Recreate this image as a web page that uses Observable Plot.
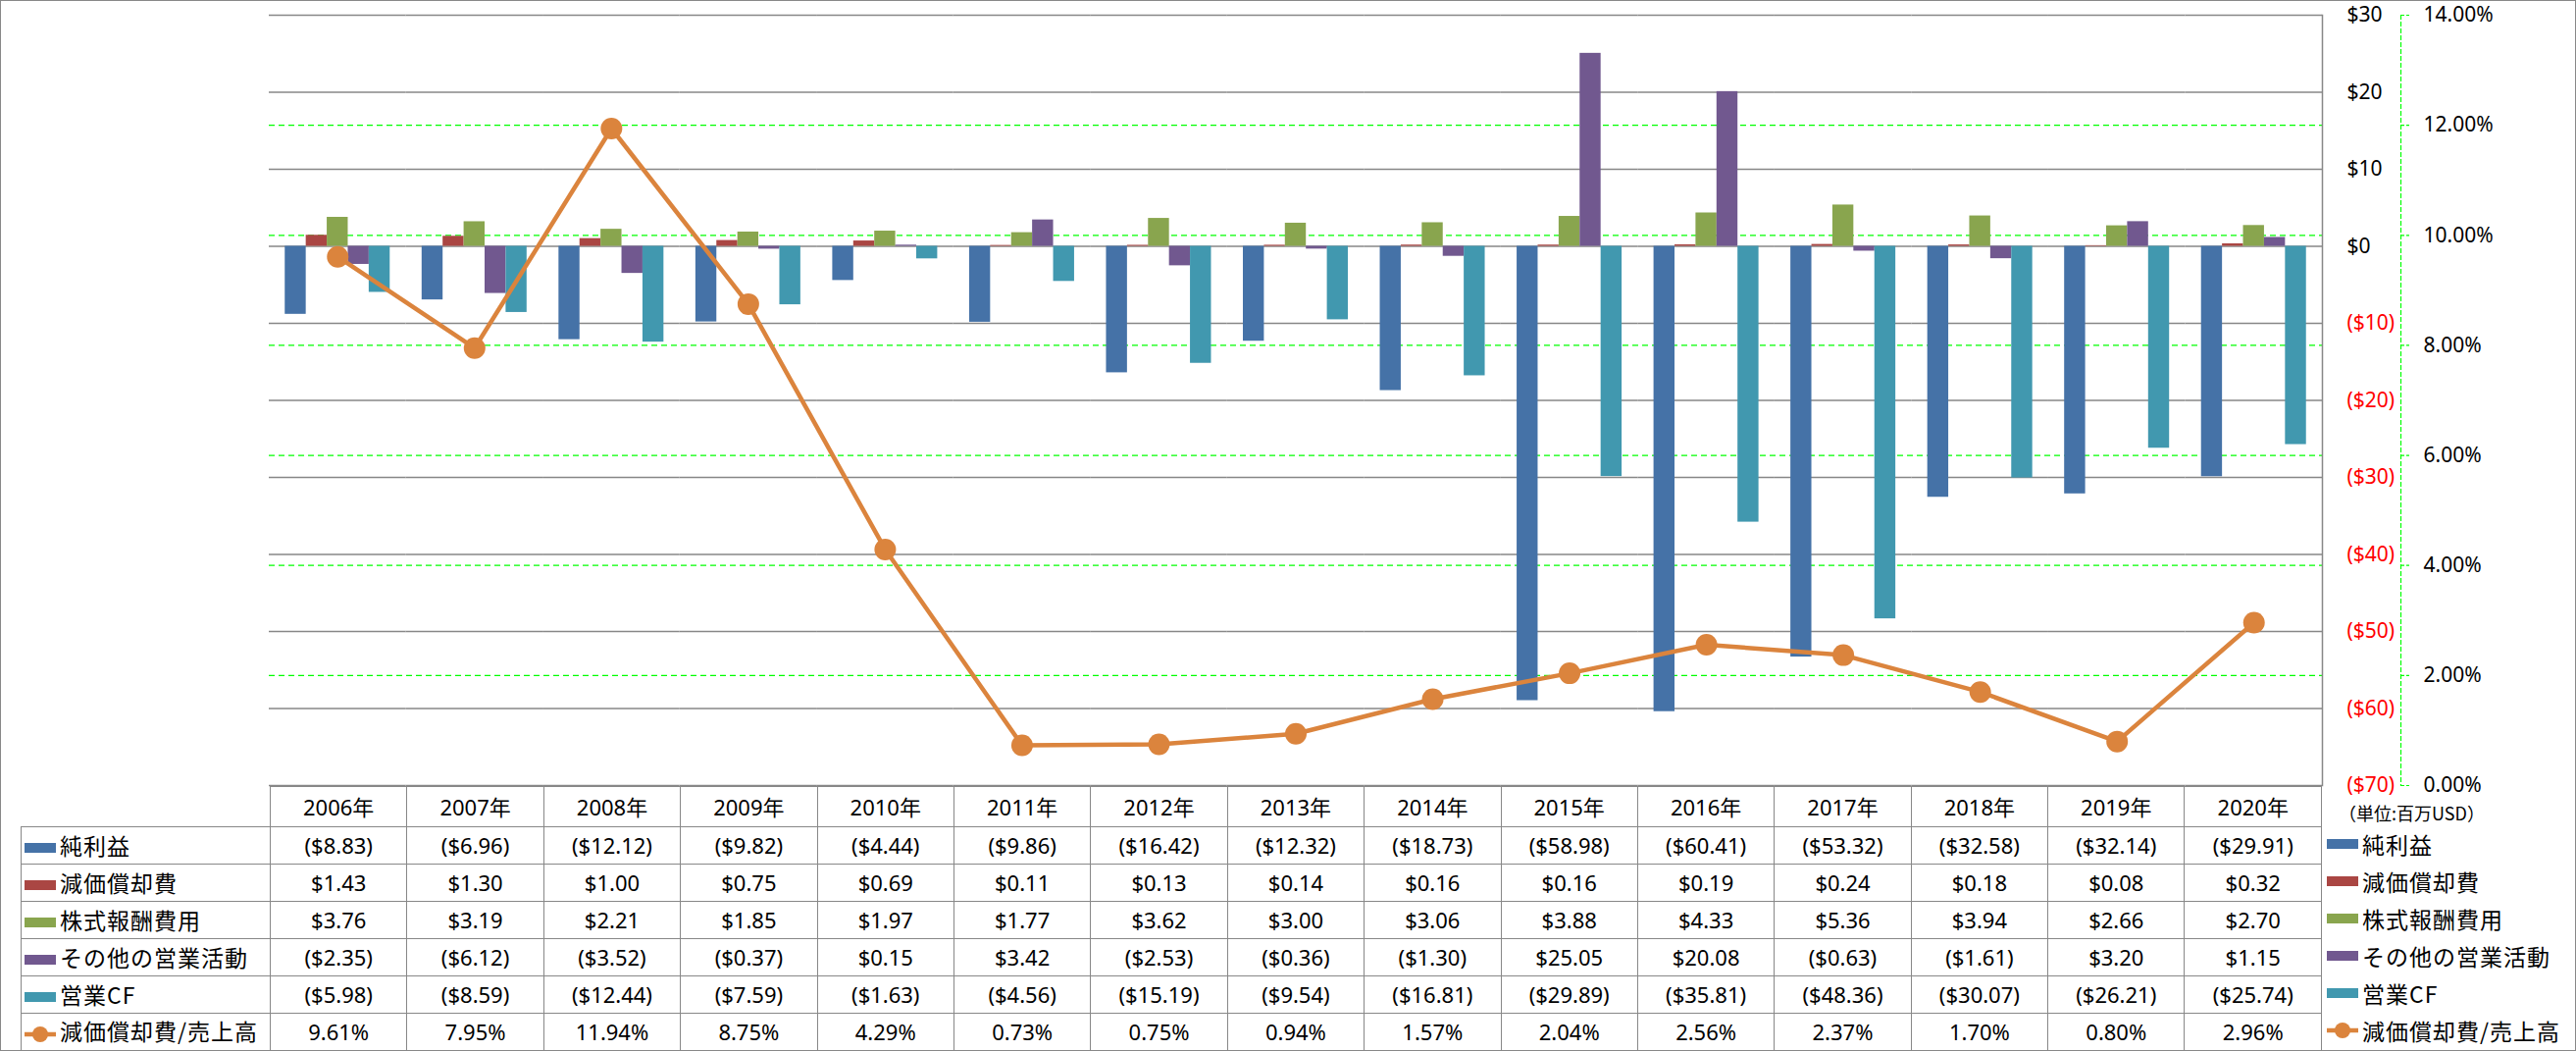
<!DOCTYPE html>
<html>
<head>
<meta charset="utf-8">
<script src="https://cdn.jsdelivr.net/npm/d3@7"></script>
<script src="https://cdn.jsdelivr.net/npm/@observablehq/plot@0.6"></script>
<style>
  html, body { margin: 0; padding: 0; background: #fff; }
  #chart { position: relative; width: 2626px; height: 1071px; overflow: hidden; font-family: "Noto Sans", "Noto Sans CJK JP", sans-serif; }
  .layer { position: absolute; left: 0; top: 0; }
  .layer svg { overflow: visible; max-width: none; }
  #outer { position: absolute; left: 0; top: 0; width: 2626px; height: 1071px; box-sizing: border-box; border: 1px solid #888; pointer-events: none; }
  #dt { position: absolute; left: 21px; top: 800.5px; width: 2346px; border-collapse: collapse; table-layout: fixed; font-size: 22px; color: #000; }
  #dt td { border: 1px solid #888; padding: 0; text-align: center; vertical-align: middle; white-space: nowrap; height: 37px; line-height: 1; }
  #dt tr.hdr td { height: 40px; }
  #dt td.blank { border-top: none; border-left: none; }
  #dt td.leg { text-align: left; padding-left: 3px; font-family: "Noto Sans CJK JP", sans-serif; font-size: 23px; letter-spacing: 1px; }
  .sw { display: inline-block; vertical-align: middle; margin-right: 4px; }
  #legR { position: absolute; left: 2372px; top: 841.5px; font-family: "Noto Sans CJK JP", sans-serif; font-size: 23px; letter-spacing: 1px; }
  #legR div { height: 37.95px; display: flex; align-items: center; white-space: nowrap; }
  #unit { position: absolute; left: 2384px; top: 815px; font-family: "Noto Sans CJK JP", sans-serif; font-size: 18px; color: #000; white-space: nowrap; }
</style>
</head>
<body>
<div id="chart"></div>
<script>
// ---------------- data ----------------
const years = ["2006年","2007年","2008年","2009年","2010年","2011年","2012年","2013年","2014年","2015年","2016年","2017年","2018年","2019年","2020年"];
const seriesNames = ["純利益","減価償却費","株式報酬費用","その他の営業活動","営業CF"];
const netIncome   = [-8.83,-6.96,-12.12,-9.82,-4.44,-9.86,-16.42,-12.32,-18.73,-58.98,-60.41,-53.32,-32.58,-32.14,-29.91];
const depreciation= [1.43,1.30,1.00,0.75,0.69,0.11,0.13,0.14,0.16,0.16,0.19,0.24,0.18,0.08,0.32];
const stockComp   = [3.76,3.19,2.21,1.85,1.97,1.77,3.62,3.00,3.06,3.88,4.33,5.36,3.94,2.66,2.70];
const otherOps    = [-2.35,-6.12,-3.52,-0.37,0.15,3.42,-2.53,-0.36,-1.30,25.05,20.08,-0.63,-1.61,3.20,1.15];
const operatingCF = [-5.98,-8.59,-12.44,-7.59,-1.63,-4.56,-15.19,-9.54,-16.81,-29.89,-35.81,-48.36,-30.07,-26.21,-25.74];
const lineName = "減価償却費/売上高";
const depToSales  = [9.61,7.95,11.94,8.75,4.29,0.73,0.75,0.94,1.57,2.04,2.56,2.37,1.70,0.80,2.96]; // percent
const dollarTicks = [30,20,10,0,-10,-20,-30,-40,-50,-60,-70];
const pctTicks = [0,2,4,6,8,10,12,14];
const unitLabel = "（単位:百万USD）";

const seriesValues = [netIncome, depreciation, stockComp, otherOps, operatingCF];
const colors = ["#4572A7","#AA4643","#89A54E","#71588F","#4198AF"];
const lineColor = "#DB843D";

const barData = [];
years.forEach((yr, i) => seriesNames.forEach((s, j) => barData.push({year: yr, series: s, value: seriesValues[j][i], color: colors[j]})));
const lineData = years.map((yr, i) => ({year: yr, ratio: depToSales[i] / 100}));

const fmtMoney = v => v < 0 ? `($${(-v).toFixed(2)})` : `$${v.toFixed(2)}`;
const fmtAxis = v => v < 0 ? `($${-v})` : `$${v}`;

// ---------------- plots ----------------
const W = 2626, H = 830;
const common = {
  width: W, height: H, marginTop: 15, marginBottom: 30, marginLeft: 274, marginRight: 259,
  style: {background: "transparent", fontFamily: "'Noto Sans', sans-serif", fontSize: "21px", color: "#000", overflow: "visible"}
};
const chart = document.getElementById("chart");
function addLayer(svg) { const d = document.createElement("div"); d.className = "layer"; d.appendChild(svg); chart.appendChild(d); }

// percent axis (secondary, outside the plot area)
addLayer(Plot.plot({
  ...common, marginLeft: 2300, marginRight: 179,
  y: {domain: [0, 0.14], axis: null},
  marks: [
    Plot.frame({anchor: "right", stroke: "#00ff00", strokeWidth: 1.2, strokeDasharray: "4,3"}),
    Plot.axisY(pctTicks.map(d => d / 100), {anchor: "right", label: null, tickSize: 8, tickPadding: 15, stroke: "#00ff00", strokeWidth: 1.2, strokeDasharray: "3,2", fill: "#000", fontSize: 21, tickFormat: d => (d * 100).toFixed(2) + "%"})
  ]
}));

// green percent gridlines (behind bars); 0% and 14% coincide with the frame lines
addLayer(Plot.plot({
  ...common,
  x: {type: "point", domain: years, padding: 0.5, round: false, axis: null},
  y: {domain: [0, 0.14], axis: null},
  marks: [
    Plot.gridY(pctTicks.filter(d => d > 0 && d < 14).map(d => d / 100), {stroke: "#00ff00", strokeOpacity: 1, strokeWidth: 1.3, strokeDasharray: "6,4"})
  ]
}));

// bars with dollar gridlines and dollar labels
addLayer(Plot.plot({
  ...common,
  fx: {domain: years, padding: 0, round: false, axis: null},
  x: {domain: seriesNames, paddingInner: 0, paddingOuter: 0.76, round: false, axis: null},
  y: {domain: [-70, 30], axis: null},
  color: {type: "identity"},
  marks: [
    Plot.gridY(dollarTicks, {stroke: "#878787", strokeOpacity: 1, strokeWidth: 1.5}),
    Plot.barY(barData, {fx: "year", x: "series", y: "value", fill: "color", insetLeft: 0, insetRight: 0}),
    Plot.axisY(dollarTicks.filter(d => d >= 0), {anchor: "right", label: null, tickSize: 0, tickPadding: 25, fill: "#000", fontSize: 21, tickFormat: fmtAxis}),
    Plot.axisY(dollarTicks.filter(d => d < 0), {anchor: "right", label: null, tickSize: 0, tickPadding: 25, fill: "#ff0000", fontSize: 21, tickFormat: fmtAxis})
  ]
}));

// line with markers + plot-area right border
addLayer(Plot.plot({
  ...common,
  x: {type: "point", domain: years, padding: 0.5, round: false, axis: null},
  y: {domain: [0, 0.14], axis: null},
  marks: [
    Plot.frame({anchor: "right", stroke: "#878787", strokeWidth: 1.5}),
    Plot.line(lineData, {x: "year", y: "ratio", stroke: lineColor, strokeWidth: 4.5}),
    Plot.dot(lineData, {x: "year", y: "ratio", r: 11, fill: lineColor})
  ]
}));

// ---------------- data table ----------------
function swatch(i) {
  if (i < 5) return `<svg class="sw" width="32" height="10"><rect width="32" height="10" fill="${colors[i]}"/></svg>`;
  return `<svg class="sw" width="32" height="18"><line x1="0" y1="9" x2="32" y2="9" stroke="${lineColor}" stroke-width="4.5"/><circle cx="16" cy="9" r="8" fill="${lineColor}"/></svg>`;
}
const table = d3.select("#chart").append("table").attr("id", "dt");
const colg = table.append("colgroup");
colg.append("col").style("width", "254px");
years.forEach(() => colg.append("col"));
const hdr = table.append("tr").attr("class", "hdr");
hdr.append("td").attr("class", "blank");
years.forEach(y => hdr.append("td").text(y));
const rowNames = [...seriesNames, lineName];
const rowVals = [...seriesValues.map(a => a.map(fmtMoney)), depToSales.map(v => v.toFixed(2) + "%")];
rowNames.forEach((n, i) => {
  const tr = table.append("tr");
  tr.append("td").attr("class", "leg").html(swatch(i) + n);
  rowVals[i].forEach(v => tr.append("td").text(v));
});

// right-hand legend
d3.select("#chart").append("div").attr("id", "unit").text(unitLabel);
const legR = d3.select("#chart").append("div").attr("id", "legR");
rowNames.forEach((n, i) => legR.append("div").html(swatch(i) + "<span>" + n + "</span>"));

d3.select("#chart").append("div").attr("id", "outer");
</script>
</body>
</html>
